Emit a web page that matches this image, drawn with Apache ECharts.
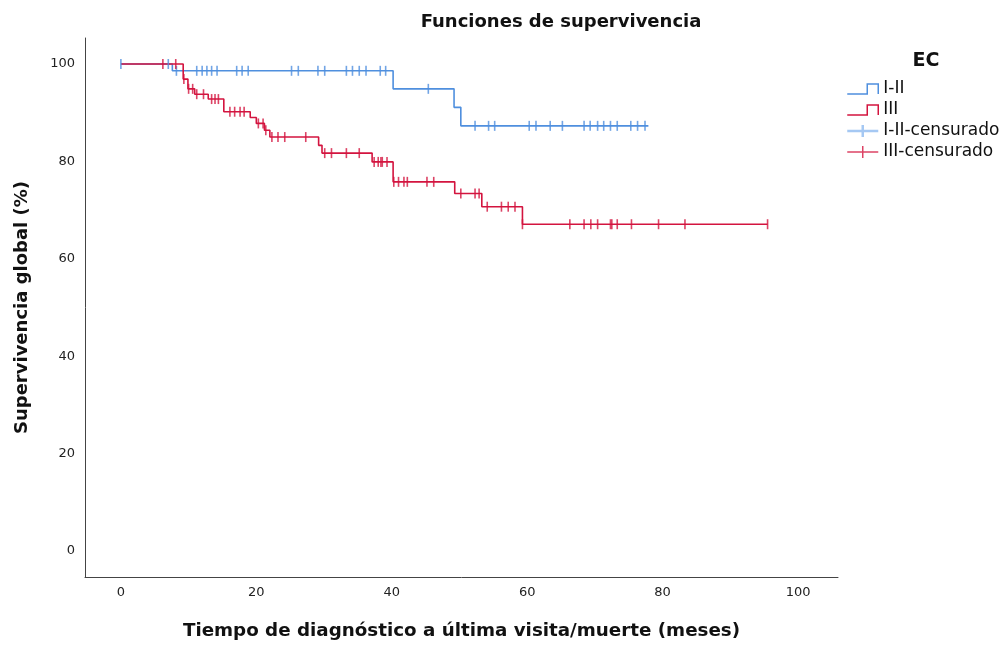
<!DOCTYPE html>
<html><head><meta charset="utf-8">
<script src="https://cdn.jsdelivr.net/npm/echarts@6/dist/echarts.min.js"></script>
<style>html,body{margin:0;padding:0;background:#fff}#c{width:1005px;height:646px}</style>
</head><body><div id="c"></div>
<script>
// ---- data ----
const xTicks = [0, 20, 40, 60, 80, 100];
const yTicks = [0, 20, 40, 60, 80, 100];

// Group I-II : event times and survival (%) after each drop
const blueTimes = [0, 7.6, 40.2, 49.2, 50.2];
const blueSurv  = [100, 98.6, 94.9, 91.1, 87.3];
const blueLast  = 77.9;
const blueCensored = [0, 7.0, 8.2, 11.2, 12.0, 12.7, 13.4, 14.2, 17.1, 17.9, 18.8, 25.2, 26.2, 29.1, 30.1,
  33.3, 34.2, 35.2, 36.2, 38.3, 39.1, 45.4, 52.3, 54.3, 55.2, 60.3, 61.3, 63.4, 65.2, 68.4, 69.3,
  70.4, 71.3, 72.3, 73.3, 75.3, 76.3, 77.4];

// Group III
const redTimes = [0, 9.2, 9.9, 10.9, 12.9, 15.2, 19.1, 20.0, 21.2, 22.0, 29.2, 29.7, 37.1, 40.2, 49.3, 53.3, 59.3];
const redSurv  = [100, 96.9, 94.9, 93.8, 92.8, 90.2, 89.0, 87.8, 86.4, 85.0, 83.3, 81.7, 79.9, 75.8, 73.4, 70.7, 67.1];
const redLast  = 95.5;
const redCensored = [6.2, 8.1, 9.3, 10.0, 10.6, 11.2, 12.2, 13.4, 13.9, 14.4, 16.1, 16.8, 17.6, 18.2, 20.3,
  21.0, 21.4, 22.3, 23.2, 24.2, 27.3, 30.1, 31.1, 33.3, 35.2, 37.4, 38.0, 38.4, 38.6, 39.3, 40.3, 41.0,
  41.8, 42.3, 45.2, 46.2, 50.2, 52.3, 52.9, 54.1, 56.2, 57.2, 58.2, 59.3, 66.3, 68.4, 69.4, 70.4, 72.3,
  72.5, 73.3, 75.4, 79.4, 83.3, 95.5];

const groupNames = ['I-II', 'III', 'I-II-censurado', 'III-censurado'];

// ---- helpers ----
function survAt(times, surv, t) {
  let v = surv[0];
  for (let i = 0; i < times.length; i++) if (times[i] <= t) v = surv[i];
  return v;
}
function stepData(times, surv, last) {
  const d = times.map((t, i) => [t, surv[i]]);
  d.push([last, surv[surv.length - 1]]);
  return d;
}
function censData(cens, times, surv) {
  return cens.map(t => [t, survAt(times, surv, t)]);
}

const BLUE = '#4f8fde';
const RED = '#d3143f';
const FONT = 'DejaVu Sans';
const stepIcon = 'path://M0,11 L20,11 L20,1 L31,1 L31,11';
const plusIcon = 'path://M0,6 L31,6 M15.5,0 L15.5,12';

const chart = echarts.init(document.getElementById('c'), null, {renderer: 'canvas'});
chart.setOption({
  animation: false,
  backgroundColor: '#fff',
  textStyle: {fontFamily: FONT},
  title: [
    {text: 'Funciones de supervivencia', left: 556, top: 8, textAlign: 'center',
     textStyle: {fontFamily: FONT, fontSize: 18, fontWeight: 'bold', color: '#111'}},
    {text: 'EC', left: 921, top: 47, textAlign: 'center',
     textStyle: {fontFamily: FONT, fontSize: 19, fontWeight: 'bold', color: '#111'}}
  ],
  legend: {
    orient: 'vertical', left: 841, top: 74, itemWidth: 31, itemHeight: 12, itemGap: 1,
    selectedMode: false,
    textStyle: {fontFamily: FONT, fontSize: 17, color: '#111', lineHeight: 20},
    data: [
      {name: groupNames[0], icon: stepIcon, itemStyle: {color: 'rgba(0,0,0,0)', borderColor: BLUE, borderWidth: 1.5}},
      {name: groupNames[1], icon: stepIcon, itemStyle: {color: 'rgba(0,0,0,0)', borderColor: RED, borderWidth: 1.5}},
      {name: groupNames[2], icon: plusIcon, itemStyle: {color: 'rgba(0,0,0,0)', borderColor: '#8fbaf0', borderWidth: 2.5}},
      {name: groupNames[3], icon: plusIcon, itemStyle: {color: 'rgba(0,0,0,0)', borderColor: RED, borderWidth: 1.5}}
    ]
  },
  grid: {left: 85, right: 167, top: 38, bottom: 69, containLabel: false, outerBoundsMode: 'none'},
  xAxis: {
    type: 'value', min: -5.3, max: 105.9,
    name: 'Tiempo de diagnóstico a última visita/muerte (meses)',
    nameLocation: 'middle', nameGap: 45,
    nameTextStyle: {fontFamily: FONT, fontSize: 18.3, fontWeight: 'bold', color: '#111'},
    axisLine: {show: true, onZero: false, lineStyle: {color: '#444', width: 1}},
    axisTick: {show: false},
    splitLine: {show: false},
    axisLabel: {customValues: xTicks, margin: 9, fontFamily: FONT, fontSize: 13, color: '#222'}
  },
  yAxis: {
    type: 'value', min: -5.34, max: 105.34,
    name: 'Supervivencia global (%)',
    nameLocation: 'middle', nameGap: 54,
    nameTextStyle: {fontFamily: FONT, fontSize: 18, fontWeight: 'bold', color: '#111'},
    axisLine: {show: true, onZero: false, lineStyle: {color: '#444', width: 1}},
    axisTick: {show: false},
    splitLine: {show: false},
    axisLabel: {customValues: yTicks, margin: 10, fontFamily: FONT, fontSize: 13, color: '#222'}
  },
  series: [
    {name: groupNames[0], type: 'line', step: 'end', showSymbol: false, symbol: 'none', z: 2,
     itemStyle: {color: BLUE}, lineStyle: {color: BLUE, width: 1.6},
     data: stepData(blueTimes, blueSurv, blueLast)},
    {name: groupNames[1], type: 'line', step: 'end', showSymbol: false, symbol: 'none', z: 3,
     itemStyle: {color: RED}, lineStyle: {color: RED, width: 1.6},
     data: stepData(redTimes, redSurv, redLast)},
    {name: groupNames[2], type: 'scatter', symbol: 'rect', symbolSize: [1.6, 10], z: 4,
     itemStyle: {color: BLUE}, data: censData(blueCensored, blueTimes, blueSurv)},
    {name: groupNames[3], type: 'scatter', symbol: 'rect', symbolSize: [1.6, 10], z: 5,
     itemStyle: {color: RED}, data: censData(redCensored, redTimes, redSurv)}
  ]
});
</script>
</body></html>
